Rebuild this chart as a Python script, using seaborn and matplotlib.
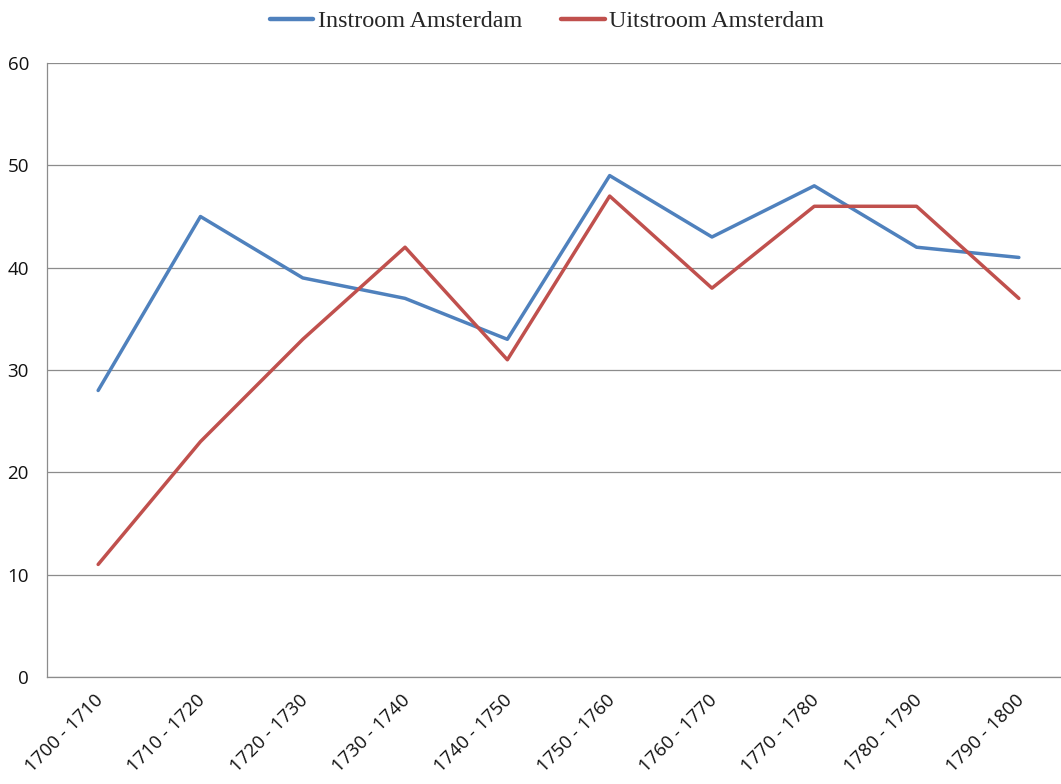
import pandas as pd
import matplotlib.pyplot as plt
import matplotlib.transforms as mtransforms
import seaborn as sns

# data
periods = ['1700 - 1710', '1710 - 1720', '1720 - 1730', '1730 - 1740', '1740 - 1750',
           '1750 - 1760', '1760 - 1770', '1770 - 1780', '1780 - 1790', '1790 - 1800']
instroom = [28, 45, 39, 37, 33, 49, 43, 48, 42, 41]
uitstroom = [11, 23, 33, 42, 31, 47, 38, 46, 46, 37]
y_ticks = [0, 10, 20, 30, 40, 50, 60]

df = pd.DataFrame({'periode': periods * 2,
                   'waarde': instroom + uitstroom,
                   'reeks': ['Instroom Amsterdam'] * len(periods) + ['Uitstroom Amsterdam'] * len(periods)})
df['x'] = list(range(len(periods))) * 2

sns.set_theme(style='white')
plt.rcParams['font.family'] = ['Open Sans', 'DejaVu Sans']

fig = plt.figure(figsize=(10.61, 7.84), dpi=100)
ax = fig.add_axes([0.0443, 0.1365, 0.9642, 0.7831])

sns.lineplot(data=df, x='x', y='waarde', hue='reeks',
             palette=['#4F81BD', '#C0504D'], linewidth=2.5, ax=ax)

ax.set_xlim(-0.5, len(periods) - 0.5)
ax.set_ylim(0, 60)
ax.set_yticks(y_ticks)
ax.yaxis.grid(True, color='#8C8C8C', linewidth=0.9)
ax.set_axisbelow(True)

# category labels centered, tick marks on boundaries
ax.set_xticks(range(len(periods)))
ax.set_xticklabels(periods, rotation=45, ha='right', rotation_mode='anchor', fontsize=13.5, color='#111111')
ax.set_xticks([i - 0.5 for i in range(len(periods) + 1)], minor=True)
ax.tick_params(axis='x', which='major', length=0, pad=10)
ax.tick_params(axis='x', which='minor', length=5, color='#8C8C8C', width=0.9, direction='out')
ax.tick_params(axis='y', length=5, color='#8C8C8C', width=0.9, direction='out',
               labelsize=13.5, labelcolor='#111111', pad=8)
shift = mtransforms.ScaledTranslation(-4 / 100, 0, fig.dpi_scale_trans)
for lbl in ax.get_xticklabels():
    lbl.set_transform(lbl.get_transform() + shift)

for side in ['top', 'right']:
    ax.spines[side].set_visible(False)
for side in ['left', 'bottom']:
    ax.spines[side].set_color('#8C8C8C')
    ax.spines[side].set_linewidth(0.9)

ax.set_xlabel('')
ax.set_ylabel('')

leg = ax.legend(loc='center', bbox_to_anchor=(547 / 1061, 1 - 21 / 784), bbox_transform=fig.transFigure,
                ncol=2, frameon=False, handlelength=1.8, handletextpad=0.2, columnspacing=1.6,
                borderpad=0, prop={'family': 'Liberation Serif', 'size': 17.4})
for line in leg.get_lines():
    line.set_linewidth(3.2)

fig.savefig('out.png', dpi=100)
